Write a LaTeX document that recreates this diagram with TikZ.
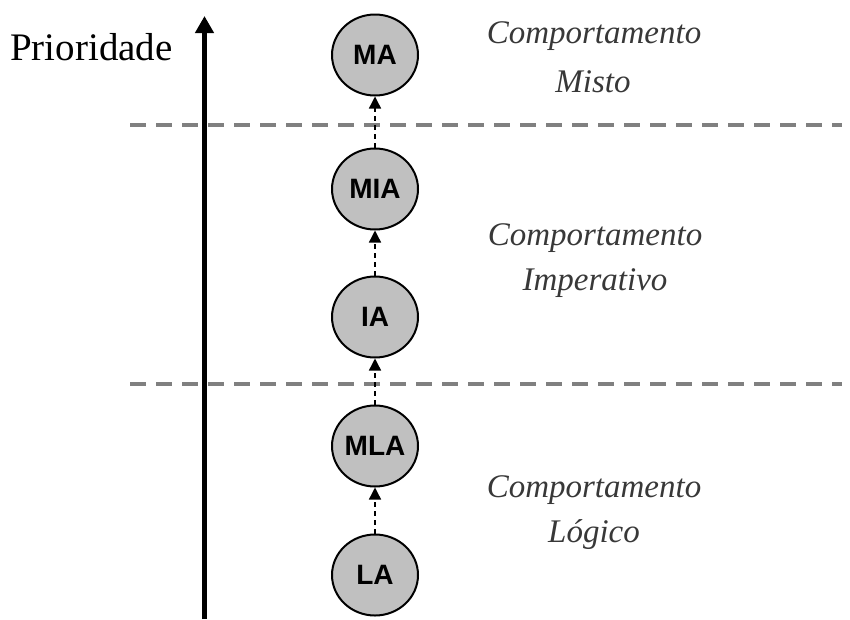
\documentclass[tikz,border=0pt]{standalone}
\usepackage{fontspec}
\setmainfont{Liberation Serif}
\newfontfamily\nodefont{Liberation Sans Bold}
\usetikzlibrary{arrows.meta,shapes.geometric}
\definecolor{nodegray}{HTML}{C0C0C0}
\definecolor{linegray}{HTML}{808080}
\definecolor{textgray}{HTML}{383838}
\tikzset{
  agent/.style={ellipse, draw=black, line width=2pt, fill=nodegray, minimum width=86pt, minimum height=81pt, inner sep=0pt, font=\nodefont\fontsize{28}{28}\selectfont},
  flow/.style={-{Triangle[length=12pt,width=12pt]}, line width=1.4pt, dash pattern=on 5pt off 4pt},
  sep/.style={draw=linegray, line width=4pt, dash pattern=on 16pt off 10pt},
  lab/.style={font=\itshape\fontsize{33}{33}\selectfont, text=textgray, anchor=base, inner sep=0pt},
}
\begin{document}
\begin{tikzpicture}[x=1pt,y=-1pt]
\useasboundingbox (0,0) rectangle (850,619);
% separators
\coordinate (s1a) at (130,125); \coordinate (s1b) at (842,125);
\coordinate (s2a) at (130,384); \coordinate (s2b) at (842,384);
\draw[sep] (s1a) -- (s1b);
\draw[sep] (s2a) -- (s2b);
% priority axis
\coordinate (axb) at (204.5,619); \coordinate (axt) at (204.5,16);
\draw[line width=5pt, -{Triangle[length=17pt,width=18pt]}] (axb) -- (axt);
\node[anchor=base west, inner sep=0pt, font=\fontsize{39}{39}\selectfont] (prio) at (10,60) {Prioridade};
% agents
\node[agent] (ma) at (375,55) {MA};
\node[agent] (mia) at (375,189) {MIA};
\node[agent] (ia) at (375,317) {IA};
\node[agent] (mla) at (375,446) {MLA};
\node[agent] (la) at (375,575) {LA};
\draw[flow] (la.north) -- (mla.south);
\draw[flow] (mla.north) -- (ia.south);
\draw[flow] (ia.north) -- (mia.south);
\draw[flow] (mia.north) -- (ma.south);
% labels
\node[lab] (c1) at (594,43) {Comportamento};
\node[lab] (c1b) at (593,92) {Misto};
\node[lab] (c2) at (595,245) {Comportamento};
\node[lab] (c2b) at (595,290) {Imperativo};
\node[lab] (c3) at (594,497) {Comportamento};
\node[lab] (c3b) at (594,542) {Lógico};
\end{tikzpicture}
\end{document}
